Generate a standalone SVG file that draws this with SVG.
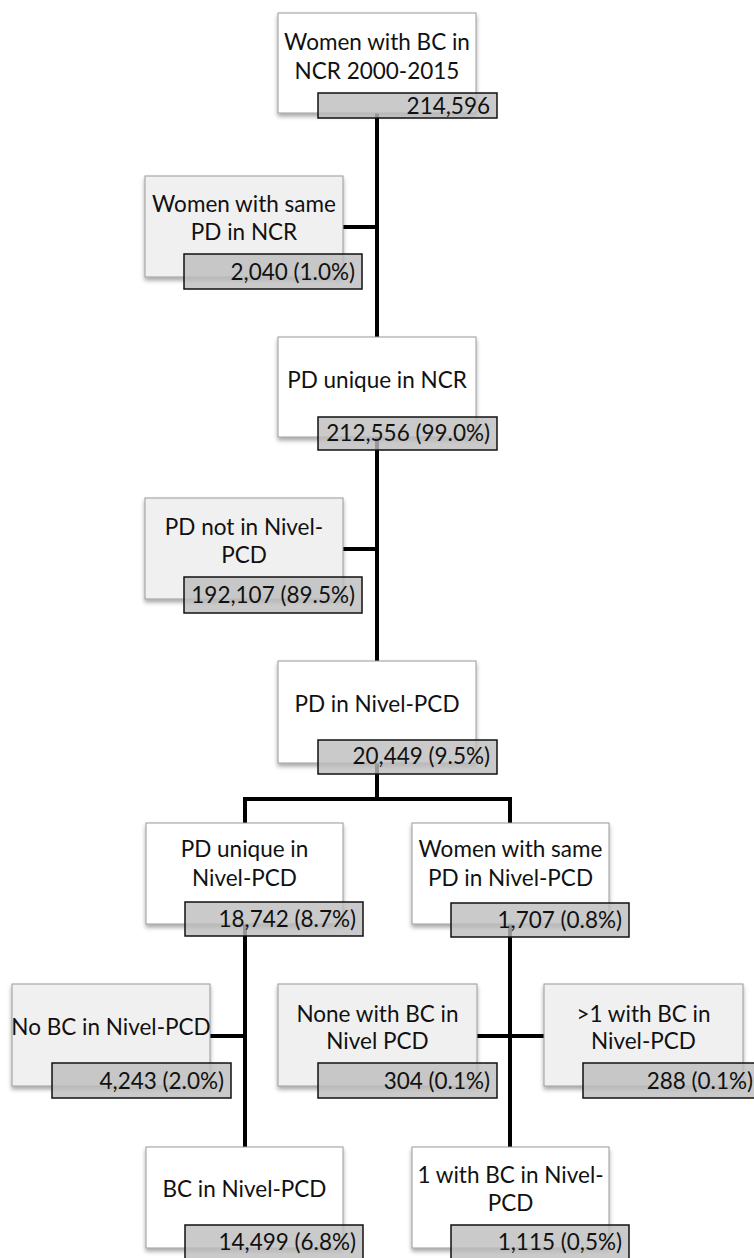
<svg xmlns="http://www.w3.org/2000/svg" width="754" height="1258" viewBox="0 0 754 1258">
<style>
.box{fill:#ffffff;stroke:#9a9a9a;stroke-width:1;filter:url(#sh)}
.side{fill:#f0f0f0;stroke:#9a9a9a;stroke-width:1;filter:url(#sh)}
.val{fill:#bdbdbd;fill-opacity:0.8;stroke:#111;stroke-width:1.5}
.t{font-family:Lato,"Liberation Sans",sans-serif;font-size:22.5px;fill:#111;text-anchor:middle}
.v{font-family:Lato,"Liberation Sans",sans-serif;font-size:22.5px;fill:#111;text-anchor:end}
.c{stroke:#000;stroke-width:4;fill:none}
</style>
<defs>
<filter id="sh" x="-10%" y="-10%" width="120%" height="130%">
<feDropShadow dx="0" dy="3" stdDeviation="2" flood-color="#000" flood-opacity="0.35"/>
</filter>
</defs>
<rect width="754" height="1258" fill="#fff"/>
<g id="connectors">
<path class="c" d="M377 100 V661"/>
<path class="c" d="M343 227 H377"/>
<path class="c" d="M343 549 H377"/>
<path class="c" d="M377 760 V799 M243 799 H512 M245 799 V823 M510 799 V823"/>
<path class="c" d="M245 920 V1147 M210 1036 H245"/>
<path class="c" d="M510 920 V1147 M477 1036 H544"/>
</g>
<g id="n1">
<rect class="box" x="278" y="13" width="198" height="100"/>
<text class="t" x="377" y="50">Women with BC in</text>
<text class="t" x="377" y="79">NCR 2000-2015</text>
<rect class="val" x="318" y="93" width="179" height="25"/>
<text class="v" x="490" y="114">214,596</text>
</g>
<g id="n2">
<rect class="side" x="145" y="176" width="198" height="101"/>
<text class="t" x="244" y="212">Women with same</text>
<text class="t" x="244" y="240">PD in NCR</text>
<rect class="val" x="184" y="254" width="178" height="35"/>
<text class="v" x="355" y="280">2,040 (1.0%)</text>
</g>
<g id="n3">
<rect class="box" x="278" y="337" width="198" height="100"/>
<text class="t" x="377" y="388">PD unique in NCR</text>
<rect class="val" x="318" y="417" width="179" height="33"/>
<text class="v" x="490" y="441">212,556 (99.0%)</text>
</g>
<g id="n4">
<rect class="side" x="145" y="498" width="198" height="101"/>
<text class="t" x="244" y="535">PD not in Nivel-</text>
<text class="t" x="244" y="563">PCD</text>
<rect class="val" x="184" y="577" width="178" height="36"/>
<text class="v" x="355" y="603">192,107 (89.5%)</text>
</g>
<g id="n5">
<rect class="box" x="278" y="661" width="198" height="102"/>
<text class="t" x="377" y="712">PD in Nivel-PCD</text>
<rect class="val" x="318" y="740" width="179" height="34"/>
<text class="v" x="490" y="764">20,449 (9.5%)</text>
</g>
<g id="n6">
<rect class="box" x="146" y="823" width="197" height="101"/>
<text class="t" x="244.5" y="857">PD unique in</text>
<text class="t" x="244.5" y="886">Nivel-PCD</text>
<rect class="val" x="185" y="902" width="178" height="34"/>
<text class="v" x="356" y="927">18,742 (8.7%)</text>
</g>
<g id="n7">
<rect class="box" x="412" y="823" width="197" height="101"/>
<text class="t" x="510.5" y="857">Women with same</text>
<text class="t" x="510.5" y="886">PD in Nivel-PCD</text>
<rect class="val" x="451" y="903" width="178" height="34"/>
<text class="v" x="622" y="928">1,707 (0.8%)</text>
</g>
<g id="n8">
<rect class="side" x="12" y="984" width="198" height="102"/>
<text class="t" x="111" y="1035">No BC in Nivel-PCD</text>
<rect class="val" x="52" y="1063" width="179" height="35"/>
<text class="v" x="224" y="1089">4,243 (2.0%)</text>
</g>
<g id="n9">
<rect class="side" x="278" y="984" width="199" height="102"/>
<text class="t" x="377.5" y="1022">None with BC in</text>
<text class="t" x="377.5" y="1049">Nivel PCD</text>
<rect class="val" x="318" y="1063" width="179" height="35"/>
<text class="v" x="490" y="1089">304 (0.1%)</text>
</g>
<g id="n10">
<rect class="side" x="544" y="984" width="199" height="102"/>
<text class="t" x="643.5" y="1022">&gt;1 with BC in</text>
<text class="t" x="643.5" y="1049">Nivel-PCD</text>
<rect class="val" x="583" y="1063" width="178" height="35"/>
<text class="v" x="753" y="1089">288 (0.1%)</text>
</g>
<g id="n11">
<rect class="box" x="146" y="1147" width="197" height="101"/>
<text class="t" x="244.5" y="1197">BC in Nivel-PCD</text>
<rect class="val" x="185" y="1225" width="178" height="35"/>
<text class="v" x="356" y="1250">14,499 (6.8%)</text>
</g>
<g id="n12">
<rect class="box" x="412" y="1147" width="197" height="101"/>
<text class="t" x="510.5" y="1183">1 with BC in Nivel-</text>
<text class="t" x="510.5" y="1211">PCD</text>
<rect class="val" x="451" y="1225" width="178" height="35"/>
<text class="v" x="622" y="1250">1,115 (0,5%)</text>
</g>
</svg>
